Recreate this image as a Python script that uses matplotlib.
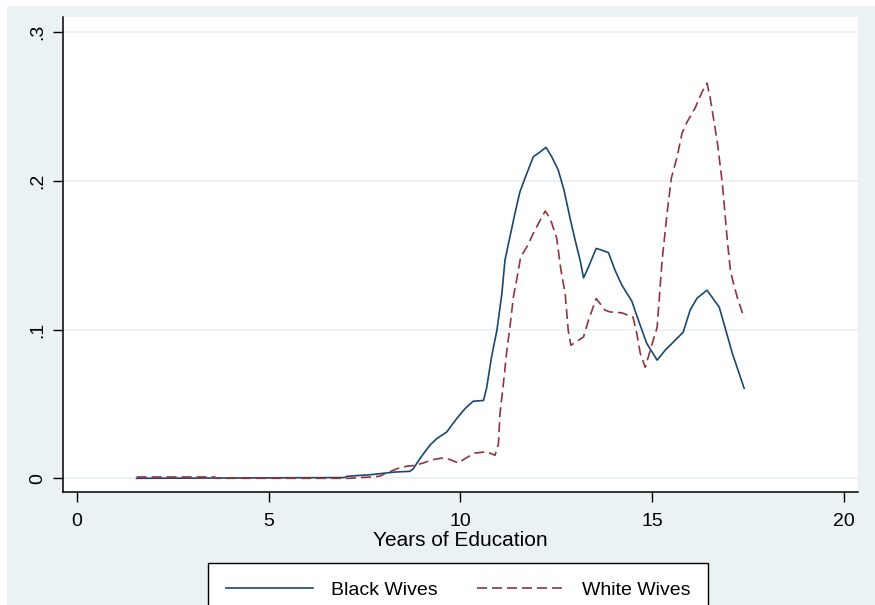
import matplotlib
matplotlib.use('Agg')
import matplotlib.pyplot as plt
from matplotlib.patches import Rectangle

# kernel density of years of education
black_x = [1.55, 6.98, 7.03, 7.68, 8.07, 8.29, 8.68, 8.77, 8.94, 9.20, 9.38, 9.64,
           9.90, 10.12, 10.33, 10.60, 10.68, 10.81, 10.95, 11.08, 11.16, 11.29, 11.42,
           11.55, 11.73, 11.90, 12.08, 12.23, 12.38, 12.55, 12.70, 12.86, 12.99, 13.12,
           13.21, 13.34, 13.54, 13.69, 13.86, 14.03, 14.21, 14.47, 14.64, 14.86, 15.13,
           15.34, 15.81, 15.99, 16.17, 16.43, 16.75, 16.90, 17.09, 17.40]
black_y = [0.0, 0.0005, 0.0013, 0.0025, 0.0036, 0.0042, 0.0047, 0.0065, 0.0132, 0.0222,
           0.0267, 0.0311, 0.0401, 0.0469, 0.0518, 0.0523, 0.0605, 0.0816, 0.0995, 0.1242,
           0.1466, 0.1623, 0.1780, 0.1925, 0.2049, 0.2161, 0.2194, 0.2224, 0.2161, 0.2071,
           0.1937, 0.1746, 0.1601, 0.1466, 0.1347, 0.1421, 0.1545, 0.1533, 0.1516, 0.1399,
           0.1298, 0.1190, 0.1063, 0.0906, 0.0794, 0.0861, 0.0982, 0.1130, 0.1210, 0.1264,
           0.1150, 0.1015, 0.0841, 0.0605]

white_x = [1.55, 3.59, 3.62, 6.94, 7.11, 7.38, 7.72, 7.90, 8.03, 8.20, 8.42, 8.60, 8.81,
           9.03, 9.29, 9.55, 9.73, 9.94, 10.16, 10.38, 10.68, 10.90, 10.99, 11.03, 11.12,
           11.21, 11.29, 11.38, 11.48, 11.57, 11.73, 11.90, 12.08, 12.21, 12.34, 12.51,
           12.62, 12.73, 12.81, 12.88, 13.21, 13.34, 13.54, 13.77, 13.90, 14.21, 14.50,
           14.60, 14.69, 14.82, 14.95, 15.13, 15.26, 15.39, 15.50, 15.65, 15.78, 15.91,
           16.12, 16.30, 16.43, 16.51, 16.70, 16.83, 16.96, 17.04, 17.12, 17.22, 17.40]
white_y = [0.0009, 0.0009, 0.0, 0.0, 0.0, 0.0005, 0.0009, 0.0015, 0.0032, 0.0049, 0.0072,
           0.0081, 0.0087, 0.0103, 0.0126, 0.0137, 0.0126, 0.0103, 0.0139, 0.0170, 0.0178,
           0.0155, 0.0233, 0.0435, 0.0637, 0.0861, 0.1017, 0.1219, 0.1354, 0.1488, 0.1555,
           0.1646, 0.1735, 0.1796, 0.1746, 0.1614, 0.1399, 0.1242, 0.0995, 0.0894, 0.0950,
           0.1063, 0.1208, 0.1130, 0.1118, 0.1112, 0.1083, 0.0973, 0.0839, 0.0746, 0.0861,
           0.1015, 0.1466, 0.1782, 0.2017, 0.2159, 0.2320, 0.2394, 0.2488, 0.2596, 0.2656,
           0.2562, 0.2260, 0.1984, 0.1601, 0.1399, 0.1311, 0.1217, 0.1076]

x_ticks = [0, 5, 10, 15, 20]
y_ticks = [0, 0.1, 0.2, 0.3]
y_labels = ['0', '.1', '.2', '.3']

navy = '#1A476F'
maroon = '#90353B'
bg = '#EAF2F3'

plt.rcParams['font.family'] = ['Liberation Sans', 'DejaVu Sans']

fig = plt.figure(figsize=(8.75, 6.05), dpi=100)
fig.patch.set_facecolor('white')
fig.patches.append(Rectangle((7 / 875, -0.05), 1.1, 1.05 - 6 / 605, transform=fig.transFigure,
                             facecolor=bg, edgecolor='none', zorder=-5))

ax = fig.add_axes([63 / 875, 1 - 492 / 605, 795 / 875, 475 / 605])
ax.set_zorder(1)
ax.set_facecolor('white')

ax.plot(black_x, black_y, color=navy, lw=1.2, label='Black Wives')
ax.plot(white_x, white_y, color=maroon, lw=1.2, dashes=(6, 3), label='White Wives')

ax.set_xlim(-0.37, 20.37)
ax.set_ylim(-0.0092, 0.310)
ax.set_xticks(x_ticks)
ax.set_yticks(y_ticks)
ax.set_yticklabels(y_labels, rotation=90, va='center')
ax.tick_params(direction='out', length=7, width=1, labelsize=14, colors='black')
ax.tick_params(axis='x', pad=8)
ax.tick_params(axis='y', pad=5)
ax.grid(axis='y', color=bg, lw=1.5)
ax.set_axisbelow(True)
for s in ['top', 'right']:
    ax.spines[s].set_visible(False)
for s in ['left', 'bottom']:
    ax.spines[s].set_linewidth(1.1)
ax.set_xlabel('Years of Education', fontsize=15, labelpad=1)

leg = fig.legend(loc='upper center', bbox_to_anchor=(458 / 875, 1 - 563 / 605), ncol=2,
                 fontsize=14, frameon=True, fancybox=False, edgecolor='black',
                 handlelength=4.5, handletextpad=0.9, columnspacing=2.0,
                 borderpad=0.95, borderaxespad=0, framealpha=1)
leg.set_zorder(2)

fig.savefig('out.png', dpi=100, facecolor=fig.get_facecolor())
